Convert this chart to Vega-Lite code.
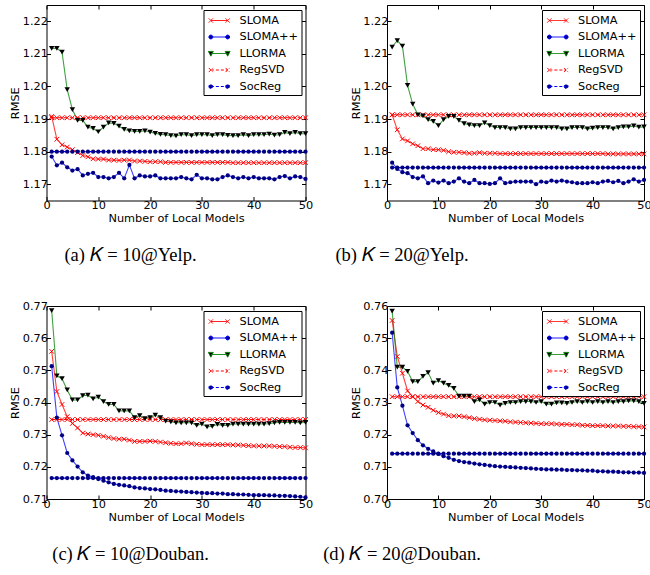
{
"$schema": "https://vega.github.io/schema/vega-lite/v6.json",
"padding": {"left": 8.5, "top": 4, "right": 0, "bottom": 0},
"bounds": "flush",
"columns": 2,
"align": "each",
"spacing": {"row": 105, "column": 81.5},
"datasets": {
"a": [
{"x":1,"SLOMA":1.1908,"SLOMA++":1.1785,"LLORMA":1.2117,"RegSVD":1.1904,"SocReg":1.18},
{"x":2,"SLOMA":1.1838,"SLOMA++":1.1758,"LLORMA":1.2117,"RegSVD":1.1904,"SocReg":1.18},
{"x":3,"SLOMA":1.1821,"SLOMA++":1.1766,"LLORMA":1.2105,"RegSVD":1.1904,"SocReg":1.18},
{"x":4,"SLOMA":1.1814,"SLOMA++":1.1752,"LLORMA":1.1990,"RegSVD":1.1904,"SocReg":1.18},
{"x":5,"SLOMA":1.1806,"SLOMA++":1.1742,"LLORMA":1.1929,"RegSVD":1.1904,"SocReg":1.18},
{"x":6,"SLOMA":1.1797,"SLOMA++":1.1746,"LLORMA":1.1896,"RegSVD":1.1904,"SocReg":1.18},
{"x":7,"SLOMA":1.1788,"SLOMA++":1.1727,"LLORMA":1.1896,"RegSVD":1.1904,"SocReg":1.18},
{"x":8,"SLOMA":1.1784,"SLOMA++":1.1732,"LLORMA":1.1875,"RegSVD":1.1904,"SocReg":1.18},
{"x":9,"SLOMA":1.1778,"SLOMA++":1.1735,"LLORMA":1.1871,"RegSVD":1.1904,"SocReg":1.18},
{"x":10,"SLOMA":1.1777,"SLOMA++":1.1722,"LLORMA":1.1861,"RegSVD":1.1904,"SocReg":1.18},
{"x":11,"SLOMA":1.1777,"SLOMA++":1.1722,"LLORMA":1.1875,"RegSVD":1.1904,"SocReg":1.18},
{"x":12,"SLOMA":1.1774,"SLOMA++":1.1718,"LLORMA":1.1888,"RegSVD":1.1904,"SocReg":1.18},
{"x":13,"SLOMA":1.1774,"SLOMA++":1.1722,"LLORMA":1.1887,"RegSVD":1.1904,"SocReg":1.18},
{"x":14,"SLOMA":1.1773,"SLOMA++":1.1735,"LLORMA":1.1878,"RegSVD":1.1904,"SocReg":1.18},
{"x":15,"SLOMA":1.1774,"SLOMA++":1.1718,"LLORMA":1.1868,"RegSVD":1.1904,"SocReg":1.18},
{"x":16,"SLOMA":1.1774,"SLOMA++":1.1759,"LLORMA":1.1864,"RegSVD":1.1904,"SocReg":1.18},
{"x":17,"SLOMA":1.1771,"SLOMA++":1.1718,"LLORMA":1.1862,"RegSVD":1.1904,"SocReg":1.18},
{"x":18,"SLOMA":1.1771,"SLOMA++":1.1727,"LLORMA":1.1862,"RegSVD":1.1904,"SocReg":1.18},
{"x":19,"SLOMA":1.1770,"SLOMA++":1.1724,"LLORMA":1.1864,"RegSVD":1.1904,"SocReg":1.18},
{"x":20,"SLOMA":1.1769,"SLOMA++":1.1724,"LLORMA":1.1860,"RegSVD":1.1904,"SocReg":1.18},
{"x":21,"SLOMA":1.1769,"SLOMA++":1.1727,"LLORMA":1.1856,"RegSVD":1.1904,"SocReg":1.18},
{"x":22,"SLOMA":1.1769,"SLOMA++":1.1718,"LLORMA":1.1853,"RegSVD":1.1904,"SocReg":1.18},
{"x":23,"SLOMA":1.1767,"SLOMA++":1.1718,"LLORMA":1.1852,"RegSVD":1.1904,"SocReg":1.18},
{"x":24,"SLOMA":1.1767,"SLOMA++":1.1718,"LLORMA":1.1849,"RegSVD":1.1904,"SocReg":1.18},
{"x":25,"SLOMA":1.1767,"SLOMA++":1.1718,"LLORMA":1.1848,"RegSVD":1.1904,"SocReg":1.18},
{"x":26,"SLOMA":1.1767,"SLOMA++":1.1722,"LLORMA":1.1852,"RegSVD":1.1904,"SocReg":1.18},
{"x":27,"SLOMA":1.1767,"SLOMA++":1.1718,"LLORMA":1.1852,"RegSVD":1.1904,"SocReg":1.18},
{"x":28,"SLOMA":1.1767,"SLOMA++":1.1715,"LLORMA":1.1849,"RegSVD":1.1904,"SocReg":1.18},
{"x":29,"SLOMA":1.1767,"SLOMA++":1.1729,"LLORMA":1.1852,"RegSVD":1.1904,"SocReg":1.18},
{"x":30,"SLOMA":1.1767,"SLOMA++":1.1718,"LLORMA":1.1852,"RegSVD":1.1904,"SocReg":1.18},
{"x":31,"SLOMA":1.1767,"SLOMA++":1.1718,"LLORMA":1.1852,"RegSVD":1.1904,"SocReg":1.18},
{"x":32,"SLOMA":1.1767,"SLOMA++":1.1715,"LLORMA":1.1849,"RegSVD":1.1904,"SocReg":1.18},
{"x":33,"SLOMA":1.1767,"SLOMA++":1.1715,"LLORMA":1.1852,"RegSVD":1.1904,"SocReg":1.18},
{"x":34,"SLOMA":1.1767,"SLOMA++":1.1722,"LLORMA":1.1852,"RegSVD":1.1904,"SocReg":1.18},
{"x":35,"SLOMA":1.1767,"SLOMA++":1.1727,"LLORMA":1.1850,"RegSVD":1.1904,"SocReg":1.18},
{"x":36,"SLOMA":1.1766,"SLOMA++":1.1722,"LLORMA":1.1849,"RegSVD":1.1904,"SocReg":1.18},
{"x":37,"SLOMA":1.1766,"SLOMA++":1.1718,"LLORMA":1.1849,"RegSVD":1.1904,"SocReg":1.18},
{"x":38,"SLOMA":1.1766,"SLOMA++":1.1722,"LLORMA":1.1852,"RegSVD":1.1904,"SocReg":1.18},
{"x":39,"SLOMA":1.1766,"SLOMA++":1.1718,"LLORMA":1.1849,"RegSVD":1.1904,"SocReg":1.18},
{"x":40,"SLOMA":1.1766,"SLOMA++":1.1722,"LLORMA":1.1852,"RegSVD":1.1904,"SocReg":1.18},
{"x":41,"SLOMA":1.1766,"SLOMA++":1.1718,"LLORMA":1.1852,"RegSVD":1.1904,"SocReg":1.18},
{"x":42,"SLOMA":1.1766,"SLOMA++":1.1718,"LLORMA":1.1852,"RegSVD":1.1904,"SocReg":1.18},
{"x":43,"SLOMA":1.1766,"SLOMA++":1.1718,"LLORMA":1.1854,"RegSVD":1.1904,"SocReg":1.18},
{"x":44,"SLOMA":1.1766,"SLOMA++":1.1715,"LLORMA":1.1851,"RegSVD":1.1904,"SocReg":1.18},
{"x":45,"SLOMA":1.1766,"SLOMA++":1.1722,"LLORMA":1.1852,"RegSVD":1.1904,"SocReg":1.18},
{"x":46,"SLOMA":1.1766,"SLOMA++":1.1725,"LLORMA":1.1859,"RegSVD":1.1904,"SocReg":1.18},
{"x":47,"SLOMA":1.1766,"SLOMA++":1.1718,"LLORMA":1.1855,"RegSVD":1.1904,"SocReg":1.18},
{"x":48,"SLOMA":1.1766,"SLOMA++":1.1724,"LLORMA":1.1859,"RegSVD":1.1904,"SocReg":1.18},
{"x":49,"SLOMA":1.1766,"SLOMA++":1.1722,"LLORMA":1.1855,"RegSVD":1.1904,"SocReg":1.18},
{"x":50,"SLOMA":1.1766,"SLOMA++":1.1716,"LLORMA":1.1855,"RegSVD":1.1904,"SocReg":1.18}
],
"b": [
{"x":1,"SLOMA":1.1913,"SLOMA++":1.1766,"LLORMA":1.2121,"RegSVD":1.1913,"SocReg":1.1751},
{"x":2,"SLOMA":1.1867,"SLOMA++":1.1747,"LLORMA":1.2141,"RegSVD":1.1913,"SocReg":1.1751},
{"x":3,"SLOMA":1.1839,"SLOMA++":1.1737,"LLORMA":1.2124,"RegSVD":1.1913,"SocReg":1.1751},
{"x":4,"SLOMA":1.1833,"SLOMA++":1.1734,"LLORMA":1.2003,"RegSVD":1.1913,"SocReg":1.1751},
{"x":5,"SLOMA":1.1824,"SLOMA++":1.1722,"LLORMA":1.1946,"RegSVD":1.1913,"SocReg":1.1751},
{"x":6,"SLOMA":1.1818,"SLOMA++":1.1718,"LLORMA":1.1913,"RegSVD":1.1913,"SocReg":1.1751},
{"x":7,"SLOMA":1.1809,"SLOMA++":1.1724,"LLORMA":1.1910,"RegSVD":1.1913,"SocReg":1.1751},
{"x":8,"SLOMA":1.1809,"SLOMA++":1.1703,"LLORMA":1.1898,"RegSVD":1.1913,"SocReg":1.1751},
{"x":9,"SLOMA":1.1806,"SLOMA++":1.1711,"LLORMA":1.1893,"RegSVD":1.1913,"SocReg":1.1751},
{"x":10,"SLOMA":1.1806,"SLOMA++":1.1705,"LLORMA":1.1880,"RegSVD":1.1913,"SocReg":1.1751},
{"x":11,"SLOMA":1.1804,"SLOMA++":1.1711,"LLORMA":1.1898,"RegSVD":1.1913,"SocReg":1.1751},
{"x":12,"SLOMA":1.1800,"SLOMA++":1.1703,"LLORMA":1.1908,"RegSVD":1.1913,"SocReg":1.1751},
{"x":13,"SLOMA":1.1798,"SLOMA++":1.1708,"LLORMA":1.1908,"RegSVD":1.1913,"SocReg":1.1751},
{"x":14,"SLOMA":1.1798,"SLOMA++":1.1718,"LLORMA":1.1896,"RegSVD":1.1913,"SocReg":1.1751},
{"x":15,"SLOMA":1.1797,"SLOMA++":1.1708,"LLORMA":1.1886,"RegSVD":1.1913,"SocReg":1.1751},
{"x":16,"SLOMA":1.1795,"SLOMA++":1.1703,"LLORMA":1.1882,"RegSVD":1.1913,"SocReg":1.1751},
{"x":17,"SLOMA":1.1795,"SLOMA++":1.1713,"LLORMA":1.1880,"RegSVD":1.1913,"SocReg":1.1751},
{"x":18,"SLOMA":1.1797,"SLOMA++":1.1703,"LLORMA":1.1880,"RegSVD":1.1913,"SocReg":1.1751},
{"x":19,"SLOMA":1.1795,"SLOMA++":1.1703,"LLORMA":1.1888,"RegSVD":1.1913,"SocReg":1.1751},
{"x":20,"SLOMA":1.1795,"SLOMA++":1.1701,"LLORMA":1.1880,"RegSVD":1.1913,"SocReg":1.1751},
{"x":21,"SLOMA":1.1795,"SLOMA++":1.1703,"LLORMA":1.1874,"RegSVD":1.1913,"SocReg":1.1751},
{"x":22,"SLOMA":1.1794,"SLOMA++":1.1718,"LLORMA":1.1874,"RegSVD":1.1913,"SocReg":1.1751},
{"x":23,"SLOMA":1.1794,"SLOMA++":1.1703,"LLORMA":1.1874,"RegSVD":1.1913,"SocReg":1.1751},
{"x":24,"SLOMA":1.1794,"SLOMA++":1.1706,"LLORMA":1.1870,"RegSVD":1.1913,"SocReg":1.1751},
{"x":25,"SLOMA":1.1794,"SLOMA++":1.1708,"LLORMA":1.1870,"RegSVD":1.1913,"SocReg":1.1751},
{"x":26,"SLOMA":1.1794,"SLOMA++":1.1708,"LLORMA":1.1874,"RegSVD":1.1913,"SocReg":1.1751},
{"x":27,"SLOMA":1.1794,"SLOMA++":1.1708,"LLORMA":1.1874,"RegSVD":1.1913,"SocReg":1.1751},
{"x":28,"SLOMA":1.1794,"SLOMA++":1.1708,"LLORMA":1.1874,"RegSVD":1.1913,"SocReg":1.1751},
{"x":29,"SLOMA":1.1794,"SLOMA++":1.1700,"LLORMA":1.1874,"RegSVD":1.1913,"SocReg":1.1751},
{"x":30,"SLOMA":1.1794,"SLOMA++":1.1708,"LLORMA":1.1874,"RegSVD":1.1913,"SocReg":1.1751},
{"x":31,"SLOMA":1.1794,"SLOMA++":1.1706,"LLORMA":1.1874,"RegSVD":1.1913,"SocReg":1.1751},
{"x":32,"SLOMA":1.1794,"SLOMA++":1.1711,"LLORMA":1.1874,"RegSVD":1.1913,"SocReg":1.1751},
{"x":33,"SLOMA":1.1794,"SLOMA++":1.1708,"LLORMA":1.1874,"RegSVD":1.1913,"SocReg":1.1751},
{"x":34,"SLOMA":1.1794,"SLOMA++":1.1711,"LLORMA":1.1870,"RegSVD":1.1913,"SocReg":1.1751},
{"x":35,"SLOMA":1.1794,"SLOMA++":1.1708,"LLORMA":1.1870,"RegSVD":1.1913,"SocReg":1.1751},
{"x":36,"SLOMA":1.1794,"SLOMA++":1.1706,"LLORMA":1.1874,"RegSVD":1.1913,"SocReg":1.1751},
{"x":37,"SLOMA":1.1794,"SLOMA++":1.1703,"LLORMA":1.1874,"RegSVD":1.1913,"SocReg":1.1751},
{"x":38,"SLOMA":1.1794,"SLOMA++":1.1703,"LLORMA":1.1874,"RegSVD":1.1913,"SocReg":1.1751},
{"x":39,"SLOMA":1.1794,"SLOMA++":1.1703,"LLORMA":1.1870,"RegSVD":1.1913,"SocReg":1.1751},
{"x":40,"SLOMA":1.1794,"SLOMA++":1.1706,"LLORMA":1.1872,"RegSVD":1.1913,"SocReg":1.1751},
{"x":41,"SLOMA":1.1794,"SLOMA++":1.1703,"LLORMA":1.1874,"RegSVD":1.1913,"SocReg":1.1751},
{"x":42,"SLOMA":1.1794,"SLOMA++":1.1708,"LLORMA":1.1874,"RegSVD":1.1913,"SocReg":1.1751},
{"x":43,"SLOMA":1.1793,"SLOMA++":1.1710,"LLORMA":1.1874,"RegSVD":1.1913,"SocReg":1.1751},
{"x":44,"SLOMA":1.1793,"SLOMA++":1.1706,"LLORMA":1.1870,"RegSVD":1.1913,"SocReg":1.1751},
{"x":45,"SLOMA":1.1793,"SLOMA++":1.1710,"LLORMA":1.1874,"RegSVD":1.1913,"SocReg":1.1751},
{"x":46,"SLOMA":1.1793,"SLOMA++":1.1703,"LLORMA":1.1876,"RegSVD":1.1913,"SocReg":1.1751},
{"x":47,"SLOMA":1.1793,"SLOMA++":1.1708,"LLORMA":1.1876,"RegSVD":1.1913,"SocReg":1.1751},
{"x":48,"SLOMA":1.1793,"SLOMA++":1.1715,"LLORMA":1.1879,"RegSVD":1.1913,"SocReg":1.1751},
{"x":49,"SLOMA":1.1793,"SLOMA++":1.1708,"LLORMA":1.1875,"RegSVD":1.1913,"SocReg":1.1751},
{"x":50,"SLOMA":1.1793,"SLOMA++":1.1713,"LLORMA":1.1876,"RegSVD":1.1913,"SocReg":1.1751}
],
"c": [
{"x":1,"SLOMA":0.7559,"SLOMA++":0.7513,"LLORMA":0.7686,"RegSVD":0.7347,"SocReg":0.7165},
{"x":2,"SLOMA":0.7434,"SLOMA++":0.7353,"LLORMA":0.7483,"RegSVD":0.7347,"SocReg":0.7165},
{"x":3,"SLOMA":0.7394,"SLOMA++":0.7298,"LLORMA":0.7474,"RegSVD":0.7347,"SocReg":0.7165},
{"x":4,"SLOMA":0.7356,"SLOMA++":0.7243,"LLORMA":0.7439,"RegSVD":0.7347,"SocReg":0.7165},
{"x":5,"SLOMA":0.7335,"SLOMA++":0.7220,"LLORMA":0.7408,"RegSVD":0.7347,"SocReg":0.7165},
{"x":6,"SLOMA":0.7321,"SLOMA++":0.7201,"LLORMA":0.7408,"RegSVD":0.7347,"SocReg":0.7165},
{"x":7,"SLOMA":0.7305,"SLOMA++":0.7183,"LLORMA":0.7421,"RegSVD":0.7347,"SocReg":0.7165},
{"x":8,"SLOMA":0.7302,"SLOMA++":0.7173,"LLORMA":0.7423,"RegSVD":0.7347,"SocReg":0.7165},
{"x":9,"SLOMA":0.7300,"SLOMA++":0.7168,"LLORMA":0.7411,"RegSVD":0.7347,"SocReg":0.7165},
{"x":10,"SLOMA":0.7298,"SLOMA++":0.7162,"LLORMA":0.7417,"RegSVD":0.7347,"SocReg":0.7165},
{"x":11,"SLOMA":0.7295,"SLOMA++":0.7157,"LLORMA":0.7403,"RegSVD":0.7347,"SocReg":0.7165},
{"x":12,"SLOMA":0.7291,"SLOMA++":0.7152,"LLORMA":0.7394,"RegSVD":0.7347,"SocReg":0.7165},
{"x":13,"SLOMA":0.7288,"SLOMA++":0.7147,"LLORMA":0.7394,"RegSVD":0.7347,"SocReg":0.7165},
{"x":14,"SLOMA":0.7286,"SLOMA++":0.7144,"LLORMA":0.7374,"RegSVD":0.7347,"SocReg":0.7165},
{"x":15,"SLOMA":0.7286,"SLOMA++":0.7142,"LLORMA":0.7374,"RegSVD":0.7347,"SocReg":0.7165},
{"x":16,"SLOMA":0.7283,"SLOMA++":0.7140,"LLORMA":0.7374,"RegSVD":0.7347,"SocReg":0.7165},
{"x":17,"SLOMA":0.7279,"SLOMA++":0.7136,"LLORMA":0.7353,"RegSVD":0.7347,"SocReg":0.7165},
{"x":18,"SLOMA":0.7279,"SLOMA++":0.7134,"LLORMA":0.7359,"RegSVD":0.7347,"SocReg":0.7165},
{"x":19,"SLOMA":0.7279,"SLOMA++":0.7133,"LLORMA":0.7350,"RegSVD":0.7347,"SocReg":0.7165},
{"x":20,"SLOMA":0.7280,"SLOMA++":0.7131,"LLORMA":0.7353,"RegSVD":0.7347,"SocReg":0.7165},
{"x":21,"SLOMA":0.7279,"SLOMA++":0.7130,"LLORMA":0.7361,"RegSVD":0.7347,"SocReg":0.7165},
{"x":22,"SLOMA":0.7277,"SLOMA++":0.7128,"LLORMA":0.7353,"RegSVD":0.7347,"SocReg":0.7165},
{"x":23,"SLOMA":0.7275,"SLOMA++":0.7126,"LLORMA":0.7342,"RegSVD":0.7347,"SocReg":0.7165},
{"x":24,"SLOMA":0.7273,"SLOMA++":0.7125,"LLORMA":0.7340,"RegSVD":0.7347,"SocReg":0.7165},
{"x":25,"SLOMA":0.7272,"SLOMA++":0.7124,"LLORMA":0.7337,"RegSVD":0.7347,"SocReg":0.7165},
{"x":26,"SLOMA":0.7272,"SLOMA++":0.7123,"LLORMA":0.7337,"RegSVD":0.7347,"SocReg":0.7165},
{"x":27,"SLOMA":0.7274,"SLOMA++":0.7122,"LLORMA":0.7337,"RegSVD":0.7347,"SocReg":0.7165},
{"x":28,"SLOMA":0.7272,"SLOMA++":0.7121,"LLORMA":0.7337,"RegSVD":0.7347,"SocReg":0.7165},
{"x":29,"SLOMA":0.7270,"SLOMA++":0.7120,"LLORMA":0.7329,"RegSVD":0.7347,"SocReg":0.7165},
{"x":30,"SLOMA":0.7269,"SLOMA++":0.7119,"LLORMA":0.7333,"RegSVD":0.7347,"SocReg":0.7165},
{"x":31,"SLOMA":0.7269,"SLOMA++":0.7118,"LLORMA":0.7324,"RegSVD":0.7347,"SocReg":0.7165},
{"x":32,"SLOMA":0.7269,"SLOMA++":0.7118,"LLORMA":0.7326,"RegSVD":0.7347,"SocReg":0.7165},
{"x":33,"SLOMA":0.7269,"SLOMA++":0.7117,"LLORMA":0.7332,"RegSVD":0.7347,"SocReg":0.7165},
{"x":34,"SLOMA":0.7269,"SLOMA++":0.7117,"LLORMA":0.7329,"RegSVD":0.7347,"SocReg":0.7165},
{"x":35,"SLOMA":0.7269,"SLOMA++":0.7115,"LLORMA":0.7329,"RegSVD":0.7347,"SocReg":0.7165},
{"x":36,"SLOMA":0.7268,"SLOMA++":0.7115,"LLORMA":0.7333,"RegSVD":0.7347,"SocReg":0.7165},
{"x":37,"SLOMA":0.7268,"SLOMA++":0.7114,"LLORMA":0.7333,"RegSVD":0.7347,"SocReg":0.7165},
{"x":38,"SLOMA":0.7267,"SLOMA++":0.7114,"LLORMA":0.7333,"RegSVD":0.7347,"SocReg":0.7165},
{"x":39,"SLOMA":0.7266,"SLOMA++":0.7113,"LLORMA":0.7333,"RegSVD":0.7347,"SocReg":0.7165},
{"x":40,"SLOMA":0.7265,"SLOMA++":0.7112,"LLORMA":0.7333,"RegSVD":0.7347,"SocReg":0.7165},
{"x":41,"SLOMA":0.7265,"SLOMA++":0.7112,"LLORMA":0.7333,"RegSVD":0.7347,"SocReg":0.7165},
{"x":42,"SLOMA":0.7265,"SLOMA++":0.7112,"LLORMA":0.7333,"RegSVD":0.7347,"SocReg":0.7165},
{"x":43,"SLOMA":0.7265,"SLOMA++":0.7111,"LLORMA":0.7334,"RegSVD":0.7347,"SocReg":0.7165},
{"x":44,"SLOMA":0.7264,"SLOMA++":0.7111,"LLORMA":0.7337,"RegSVD":0.7347,"SocReg":0.7165},
{"x":45,"SLOMA":0.7263,"SLOMA++":0.7110,"LLORMA":0.7338,"RegSVD":0.7347,"SocReg":0.7165},
{"x":46,"SLOMA":0.7263,"SLOMA++":0.7110,"LLORMA":0.7338,"RegSVD":0.7347,"SocReg":0.7165},
{"x":47,"SLOMA":0.7261,"SLOMA++":0.7109,"LLORMA":0.7338,"RegSVD":0.7347,"SocReg":0.7165},
{"x":48,"SLOMA":0.7260,"SLOMA++":0.7108,"LLORMA":0.7338,"RegSVD":0.7347,"SocReg":0.7165},
{"x":49,"SLOMA":0.7260,"SLOMA++":0.7107,"LLORMA":0.7337,"RegSVD":0.7347,"SocReg":0.7165},
{"x":50,"SLOMA":0.7259,"SLOMA++":0.7105,"LLORMA":0.7338,"RegSVD":0.7347,"SocReg":0.7165}
],
"d": [
{"x":1,"SLOMA":0.7555,"SLOMA++":0.7517,"LLORMA":0.7584,"RegSVD":0.7318,"SocReg":0.7141},
{"x":2,"SLOMA":0.7443,"SLOMA++":0.7347,"LLORMA":0.7410,"RegSVD":0.7318,"SocReg":0.7141},
{"x":3,"SLOMA":0.7391,"SLOMA++":0.7290,"LLORMA":0.7410,"RegSVD":0.7318,"SocReg":0.7141},
{"x":4,"SLOMA":0.7336,"SLOMA++":0.7229,"LLORMA":0.7397,"RegSVD":0.7318,"SocReg":0.7141},
{"x":5,"SLOMA":0.7318,"SLOMA++":0.7205,"LLORMA":0.7365,"RegSVD":0.7318,"SocReg":0.7141},
{"x":6,"SLOMA":0.7303,"SLOMA++":0.7183,"LLORMA":0.7365,"RegSVD":0.7318,"SocReg":0.7141},
{"x":7,"SLOMA":0.7292,"SLOMA++":0.7167,"LLORMA":0.7381,"RegSVD":0.7318,"SocReg":0.7141},
{"x":8,"SLOMA":0.7285,"SLOMA++":0.7156,"LLORMA":0.7393,"RegSVD":0.7318,"SocReg":0.7141},
{"x":9,"SLOMA":0.7276,"SLOMA++":0.7148,"LLORMA":0.7360,"RegSVD":0.7318,"SocReg":0.7141},
{"x":10,"SLOMA":0.7269,"SLOMA++":0.7140,"LLORMA":0.7368,"RegSVD":0.7318,"SocReg":0.7141},
{"x":11,"SLOMA":0.7264,"SLOMA++":0.7133,"LLORMA":0.7360,"RegSVD":0.7318,"SocReg":0.7141},
{"x":12,"SLOMA":0.7259,"SLOMA++":0.7128,"LLORMA":0.7353,"RegSVD":0.7318,"SocReg":0.7141},
{"x":13,"SLOMA":0.7258,"SLOMA++":0.7122,"LLORMA":0.7344,"RegSVD":0.7318,"SocReg":0.7141},
{"x":14,"SLOMA":0.7258,"SLOMA++":0.7118,"LLORMA":0.7320,"RegSVD":0.7318,"SocReg":0.7141},
{"x":15,"SLOMA":0.7256,"SLOMA++":0.7115,"LLORMA":0.7320,"RegSVD":0.7318,"SocReg":0.7141},
{"x":16,"SLOMA":0.7253,"SLOMA++":0.7113,"LLORMA":0.7320,"RegSVD":0.7318,"SocReg":0.7141},
{"x":17,"SLOMA":0.7250,"SLOMA++":0.7110,"LLORMA":0.7303,"RegSVD":0.7318,"SocReg":0.7141},
{"x":18,"SLOMA":0.7248,"SLOMA++":0.7108,"LLORMA":0.7308,"RegSVD":0.7318,"SocReg":0.7141},
{"x":19,"SLOMA":0.7246,"SLOMA++":0.7106,"LLORMA":0.7295,"RegSVD":0.7318,"SocReg":0.7141},
{"x":20,"SLOMA":0.7245,"SLOMA++":0.7104,"LLORMA":0.7300,"RegSVD":0.7318,"SocReg":0.7141},
{"x":21,"SLOMA":0.7244,"SLOMA++":0.7102,"LLORMA":0.7300,"RegSVD":0.7318,"SocReg":0.7141},
{"x":22,"SLOMA":0.7243,"SLOMA++":0.7101,"LLORMA":0.7292,"RegSVD":0.7318,"SocReg":0.7141},
{"x":23,"SLOMA":0.7242,"SLOMA++":0.7100,"LLORMA":0.7297,"RegSVD":0.7318,"SocReg":0.7141},
{"x":24,"SLOMA":0.7240,"SLOMA++":0.7099,"LLORMA":0.7300,"RegSVD":0.7318,"SocReg":0.7141},
{"x":25,"SLOMA":0.7239,"SLOMA++":0.7098,"LLORMA":0.7300,"RegSVD":0.7318,"SocReg":0.7141},
{"x":26,"SLOMA":0.7238,"SLOMA++":0.7097,"LLORMA":0.7303,"RegSVD":0.7318,"SocReg":0.7141},
{"x":27,"SLOMA":0.7237,"SLOMA++":0.7096,"LLORMA":0.7303,"RegSVD":0.7318,"SocReg":0.7141},
{"x":28,"SLOMA":0.7236,"SLOMA++":0.7095,"LLORMA":0.7303,"RegSVD":0.7318,"SocReg":0.7141},
{"x":29,"SLOMA":0.7235,"SLOMA++":0.7094,"LLORMA":0.7300,"RegSVD":0.7318,"SocReg":0.7141},
{"x":30,"SLOMA":0.7234,"SLOMA++":0.7093,"LLORMA":0.7303,"RegSVD":0.7318,"SocReg":0.7141},
{"x":31,"SLOMA":0.7234,"SLOMA++":0.7092,"LLORMA":0.7295,"RegSVD":0.7318,"SocReg":0.7141},
{"x":32,"SLOMA":0.7234,"SLOMA++":0.7092,"LLORMA":0.7295,"RegSVD":0.7318,"SocReg":0.7141},
{"x":33,"SLOMA":0.7233,"SLOMA++":0.7091,"LLORMA":0.7299,"RegSVD":0.7318,"SocReg":0.7141},
{"x":34,"SLOMA":0.7232,"SLOMA++":0.7091,"LLORMA":0.7299,"RegSVD":0.7318,"SocReg":0.7141},
{"x":35,"SLOMA":0.7232,"SLOMA++":0.7090,"LLORMA":0.7297,"RegSVD":0.7318,"SocReg":0.7141},
{"x":36,"SLOMA":0.7231,"SLOMA++":0.7090,"LLORMA":0.7300,"RegSVD":0.7318,"SocReg":0.7141},
{"x":37,"SLOMA":0.7231,"SLOMA++":0.7089,"LLORMA":0.7303,"RegSVD":0.7318,"SocReg":0.7141},
{"x":38,"SLOMA":0.7229,"SLOMA++":0.7089,"LLORMA":0.7300,"RegSVD":0.7318,"SocReg":0.7141},
{"x":39,"SLOMA":0.7229,"SLOMA++":0.7088,"LLORMA":0.7303,"RegSVD":0.7318,"SocReg":0.7141},
{"x":40,"SLOMA":0.7228,"SLOMA++":0.7088,"LLORMA":0.7300,"RegSVD":0.7318,"SocReg":0.7141},
{"x":41,"SLOMA":0.7228,"SLOMA++":0.7086,"LLORMA":0.7303,"RegSVD":0.7318,"SocReg":0.7141},
{"x":42,"SLOMA":0.7228,"SLOMA++":0.7086,"LLORMA":0.7300,"RegSVD":0.7318,"SocReg":0.7141},
{"x":43,"SLOMA":0.7227,"SLOMA++":0.7085,"LLORMA":0.7303,"RegSVD":0.7318,"SocReg":0.7141},
{"x":44,"SLOMA":0.7227,"SLOMA++":0.7085,"LLORMA":0.7300,"RegSVD":0.7318,"SocReg":0.7141},
{"x":45,"SLOMA":0.7227,"SLOMA++":0.7084,"LLORMA":0.7303,"RegSVD":0.7318,"SocReg":0.7141},
{"x":46,"SLOMA":0.7226,"SLOMA++":0.7083,"LLORMA":0.7303,"RegSVD":0.7318,"SocReg":0.7141},
{"x":47,"SLOMA":0.7226,"SLOMA++":0.7083,"LLORMA":0.7305,"RegSVD":0.7318,"SocReg":0.7141},
{"x":48,"SLOMA":0.7225,"SLOMA++":0.7082,"LLORMA":0.7305,"RegSVD":0.7318,"SocReg":0.7141},
{"x":49,"SLOMA":0.7225,"SLOMA++":0.7082,"LLORMA":0.7303,"RegSVD":0.7318,"SocReg":0.7141},
{"x":50,"SLOMA":0.7224,"SLOMA++":0.7081,"LLORMA":0.7297,"RegSVD":0.7318,"SocReg":0.7141}
]
},
"concat": [
{
"width": 259, "height": 195.5,
"data": {"name": "a"},
"transform": [{"fold": ["SLOMA","SLOMA++","LLORMA","RegSVD","SocReg"], "as": ["series","rmse"]}],
"title": {"text": "(a)  𝐾 = 10@Yelp.", "dx": -45.5},
"layer": [
{"layer": [
{"transform": [{"filter": "datum.series==='SLOMA'||datum.series==='SLOMA++'||datum.series==='LLORMA'"}],
"mark": {"type": "line", "strokeWidth": 1.1, "strokeOpacity": 0.75},
"encoding": {
"x": {"field": "x", "type": "quantitative", "scale": {"domain": [0, 50], "nice": false}, "axis": {"values": [0,10,20,30,40,50], "tickCount": 12, "title": "Number of Local Models", "labelOverlap": false}},
"y": {"field": "rmse", "type": "quantitative", "scale": {"domain": [1.165, 1.225], "nice": false, "zero": false}, "axis": {"values": [1.17,1.18,1.19,1.2,1.21,1.22], "tickCount": 12, "format": ".2f", "title": "RMSE", "labelOverlap": false}},
"color": {"field": "series", "type": "nominal", "scale": {"range": ["#008000","#ff0000","#ff0000","#0000ff","#0000ff"]}, "legend": null}
}},
{"transform": [{"filter": "datum.series==='RegSVD'||datum.series==='SocReg'"}],
"mark": {"type": "line", "strokeWidth": 1.1, "strokeDash": [4, 2]},
"encoding": {"x": {"field": "x", "type": "quantitative"}, "y": {"field": "rmse", "type": "quantitative"}, "color": {"field": "series", "type": "nominal", "legend": null}}},
{"transform": [{"filter": "datum.series==='SLOMA'||datum.series==='RegSVD'"}],
"mark": {"type": "point", "filled": false, "shape": "M-0.85,-0.85L0.85,0.85M-0.85,0.85L0.85,-0.85", "size": 30, "color": "#ff0000", "strokeWidth": 1, "opacity": 1},
"encoding": {"x": {"field": "x", "type": "quantitative"}, "y": {"field": "rmse", "type": "quantitative"}}},
{"transform": [{"filter": "datum.series==='SLOMA++'||datum.series==='SocReg'"}],
"mark": {"type": "point", "filled": true, "shape": "circle", "size": 18, "color": "#000080", "opacity": 1},
"encoding": {"x": {"field": "x", "type": "quantitative"}, "y": {"field": "rmse", "type": "quantitative"}}},
{"transform": [{"filter": "datum.series==='LLORMA'"}],
"mark": {"type": "point", "filled": true, "shape": "triangle-down", "size": 30, "color": "#000000", "opacity": 1},
"encoding": {"x": {"field": "x", "type": "quantitative"}, "y": {"field": "rmse", "type": "quantitative"}}},
{"transform": [{"filter": "datum.x > 1000"}],
"mark": {"type": "point", "filled": true, "opacity": 1},
"encoding": {"x": {"field": "x", "type": "quantitative"}, "y": {"field": "rmse", "type": "quantitative"},
"shape": {"field": "series", "type": "nominal", "scale": {"domain": ["SLOMA","SLOMA++","LLORMA","RegSVD","SocReg"], "range": ["M-0.45,0H1.95M-0.75,-0.3L-0.15,0.3M-0.75,0.3L-0.15,-0.3M1.65,-0.3L2.25,0.3M1.65,0.3L2.25,-0.3","M-0.45,0H1.95M-0.73,0A0.28,0.28 0 1,0 -0.17,0A0.28,0.28 0 1,0 -0.73,0ZM1.67,0A0.28,0.28 0 1,0 2.23,0A0.28,0.28 0 1,0 1.67,0Z","M-0.45,0H1.95M-0.8,-0.3L-0.1,-0.3L-0.45,0.38ZM1.6,-0.3L2.3,-0.3L1.95,0.38Z","M-0.45,0H1.95M-0.75,-0.3L-0.15,0.3M-0.75,0.3L-0.15,-0.3M1.65,-0.3L2.25,0.3M1.65,0.3L2.25,-0.3","M-0.45,0H1.95M-0.73,0A0.28,0.28 0 1,0 -0.17,0A0.28,0.28 0 1,0 -0.73,0ZM1.67,0A0.28,0.28 0 1,0 2.23,0A0.28,0.28 0 1,0 1.67,0Z"]}, "legend": {"title": null}},
"fill": {"field": "series", "type": "nominal", "scale": {"domain": ["SLOMA","SLOMA++","LLORMA","RegSVD","SocReg"], "range": ["#ff0000","#000080","#000000","#ff0000","#000080"]}, "legend": {"title": null}},
"stroke": {"field": "series", "type": "nominal", "scale": {"domain": ["SLOMA","SLOMA++","LLORMA","RegSVD","SocReg"], "range": ["#ff0000","#0000ff","#008000","#ff0000","#0000ff"]}, "legend": {"title": null}},
"strokeDash": {"field": "series", "type": "nominal", "scale": {"domain": ["SLOMA","SLOMA++","LLORMA","RegSVD","SocReg"], "range": [[1,0],[1,0],[1,0],[3,2],[3,2]]}, "legend": {"title": null}}
}}
]},
{"mark": {"type": "point", "opacity": 0},
"encoding": {
"x": {"field": "x", "type": "quantitative", "scale": {"domain": [0, 50], "nice": false}, "axis": {"orient": "top", "values": [0,10,20,30,40,50], "tickCount": 12, "labels": false, "title": null}},
"y": {"field": "rmse", "type": "quantitative", "scale": {"domain": [1.165, 1.225], "nice": false, "zero": false}, "axis": {"orient": "right", "values": [1.17,1.18,1.19,1.2,1.21,1.22], "tickCount": 12, "labels": false, "title": null}}
}}
],
"resolve": {"scale": {"x": "independent", "y": "independent"}}
},
{
"width": 257, "height": 195.5,
"data": {"name": "b"},
"transform": [{"fold": ["SLOMA","SLOMA++","LLORMA","RegSVD","SocReg"], "as": ["series","rmse"]}],
"title": {"text": "(b)  𝐾 = 20@Yelp.", "dx": -113.5},
"layer": [
{"layer": [
{"transform": [{"filter": "datum.series==='SLOMA'||datum.series==='SLOMA++'||datum.series==='LLORMA'"}],
"mark": {"type": "line", "strokeWidth": 1.1, "strokeOpacity": 0.75},
"encoding": {
"x": {"field": "x", "type": "quantitative", "scale": {"domain": [0, 50], "nice": false}, "axis": {"values": [0,10,20,30,40,50], "tickCount": 12, "title": "Number of Local Models", "labelOverlap": false}},
"y": {"field": "rmse", "type": "quantitative", "scale": {"domain": [1.165, 1.225], "nice": false, "zero": false}, "axis": {"values": [1.17,1.18,1.19,1.2,1.21,1.22], "tickCount": 12, "format": ".2f", "title": "RMSE", "labelOverlap": false}},
"color": {"field": "series", "type": "nominal", "scale": {"range": ["#008000","#ff0000","#ff0000","#0000ff","#0000ff"]}, "legend": null}
}},
{"transform": [{"filter": "datum.series==='RegSVD'||datum.series==='SocReg'"}],
"mark": {"type": "line", "strokeWidth": 1.1, "strokeDash": [4, 2]},
"encoding": {"x": {"field": "x", "type": "quantitative"}, "y": {"field": "rmse", "type": "quantitative"}, "color": {"field": "series", "type": "nominal", "legend": null}}},
{"transform": [{"filter": "datum.series==='SLOMA'||datum.series==='RegSVD'"}],
"mark": {"type": "point", "filled": false, "shape": "M-0.85,-0.85L0.85,0.85M-0.85,0.85L0.85,-0.85", "size": 30, "color": "#ff0000", "strokeWidth": 1, "opacity": 1},
"encoding": {"x": {"field": "x", "type": "quantitative"}, "y": {"field": "rmse", "type": "quantitative"}}},
{"transform": [{"filter": "datum.series==='SLOMA++'||datum.series==='SocReg'"}],
"mark": {"type": "point", "filled": true, "shape": "circle", "size": 18, "color": "#000080", "opacity": 1},
"encoding": {"x": {"field": "x", "type": "quantitative"}, "y": {"field": "rmse", "type": "quantitative"}}},
{"transform": [{"filter": "datum.series==='LLORMA'"}],
"mark": {"type": "point", "filled": true, "shape": "triangle-down", "size": 30, "color": "#000000", "opacity": 1},
"encoding": {"x": {"field": "x", "type": "quantitative"}, "y": {"field": "rmse", "type": "quantitative"}}},
{"transform": [{"filter": "datum.x > 1000"}],
"mark": {"type": "point", "filled": true, "opacity": 1},
"encoding": {"x": {"field": "x", "type": "quantitative"}, "y": {"field": "rmse", "type": "quantitative"},
"shape": {"field": "series", "type": "nominal", "scale": {"domain": ["SLOMA","SLOMA++","LLORMA","RegSVD","SocReg"], "range": ["M-0.45,0H1.95M-0.75,-0.3L-0.15,0.3M-0.75,0.3L-0.15,-0.3M1.65,-0.3L2.25,0.3M1.65,0.3L2.25,-0.3","M-0.45,0H1.95M-0.73,0A0.28,0.28 0 1,0 -0.17,0A0.28,0.28 0 1,0 -0.73,0ZM1.67,0A0.28,0.28 0 1,0 2.23,0A0.28,0.28 0 1,0 1.67,0Z","M-0.45,0H1.95M-0.8,-0.3L-0.1,-0.3L-0.45,0.38ZM1.6,-0.3L2.3,-0.3L1.95,0.38Z","M-0.45,0H1.95M-0.75,-0.3L-0.15,0.3M-0.75,0.3L-0.15,-0.3M1.65,-0.3L2.25,0.3M1.65,0.3L2.25,-0.3","M-0.45,0H1.95M-0.73,0A0.28,0.28 0 1,0 -0.17,0A0.28,0.28 0 1,0 -0.73,0ZM1.67,0A0.28,0.28 0 1,0 2.23,0A0.28,0.28 0 1,0 1.67,0Z"]}, "legend": {"title": null}},
"fill": {"field": "series", "type": "nominal", "scale": {"domain": ["SLOMA","SLOMA++","LLORMA","RegSVD","SocReg"], "range": ["#ff0000","#000080","#000000","#ff0000","#000080"]}, "legend": {"title": null}},
"stroke": {"field": "series", "type": "nominal", "scale": {"domain": ["SLOMA","SLOMA++","LLORMA","RegSVD","SocReg"], "range": ["#ff0000","#0000ff","#008000","#ff0000","#0000ff"]}, "legend": {"title": null}},
"strokeDash": {"field": "series", "type": "nominal", "scale": {"domain": ["SLOMA","SLOMA++","LLORMA","RegSVD","SocReg"], "range": [[1,0],[1,0],[1,0],[3,2],[3,2]]}, "legend": {"title": null}}
}}
]},
{"mark": {"type": "point", "opacity": 0},
"encoding": {
"x": {"field": "x", "type": "quantitative", "scale": {"domain": [0, 50], "nice": false}, "axis": {"orient": "top", "values": [0,10,20,30,40,50], "tickCount": 12, "labels": false, "title": null}},
"y": {"field": "rmse", "type": "quantitative", "scale": {"domain": [1.165, 1.225], "nice": false, "zero": false}, "axis": {"orient": "right", "values": [1.17,1.18,1.19,1.2,1.21,1.22], "tickCount": 12, "labels": false, "title": null}}
}}
],
"resolve": {"scale": {"x": "independent", "y": "independent"}}
},
{
"width": 259, "height": 193,
"data": {"name": "c"},
"transform": [{"fold": ["SLOMA","SLOMA++","LLORMA","RegSVD","SocReg"], "as": ["series","rmse"]}],
"title": {"text": "(c)  𝐾 = 10@Douban.", "dx": -45.5},
"layer": [
{"layer": [
{"transform": [{"filter": "datum.series==='SLOMA'||datum.series==='SLOMA++'||datum.series==='LLORMA'"}],
"mark": {"type": "line", "strokeWidth": 1.1, "strokeOpacity": 0.75},
"encoding": {
"x": {"field": "x", "type": "quantitative", "scale": {"domain": [0, 50], "nice": false}, "axis": {"values": [0,10,20,30,40,50], "tickCount": 12, "title": "Number of Local Models", "labelOverlap": false}},
"y": {"field": "rmse", "type": "quantitative", "scale": {"domain": [0.71, 0.77], "nice": false, "zero": false}, "axis": {"values": [0.71,0.72,0.73,0.74,0.75,0.76,0.77], "tickCount": 12, "format": ".2f", "title": "RMSE", "labelOverlap": false}},
"color": {"field": "series", "type": "nominal", "scale": {"range": ["#008000","#ff0000","#ff0000","#0000ff","#0000ff"]}, "legend": null}
}},
{"transform": [{"filter": "datum.series==='RegSVD'||datum.series==='SocReg'"}],
"mark": {"type": "line", "strokeWidth": 1.1, "strokeDash": [4, 2]},
"encoding": {"x": {"field": "x", "type": "quantitative"}, "y": {"field": "rmse", "type": "quantitative"}, "color": {"field": "series", "type": "nominal", "legend": null}}},
{"transform": [{"filter": "datum.series==='SLOMA'||datum.series==='RegSVD'"}],
"mark": {"type": "point", "filled": false, "shape": "M-0.85,-0.85L0.85,0.85M-0.85,0.85L0.85,-0.85", "size": 30, "color": "#ff0000", "strokeWidth": 1, "opacity": 1},
"encoding": {"x": {"field": "x", "type": "quantitative"}, "y": {"field": "rmse", "type": "quantitative"}}},
{"transform": [{"filter": "datum.series==='SLOMA++'||datum.series==='SocReg'"}],
"mark": {"type": "point", "filled": true, "shape": "circle", "size": 18, "color": "#000080", "opacity": 1},
"encoding": {"x": {"field": "x", "type": "quantitative"}, "y": {"field": "rmse", "type": "quantitative"}}},
{"transform": [{"filter": "datum.series==='LLORMA'"}],
"mark": {"type": "point", "filled": true, "shape": "triangle-down", "size": 30, "color": "#000000", "opacity": 1},
"encoding": {"x": {"field": "x", "type": "quantitative"}, "y": {"field": "rmse", "type": "quantitative"}}},
{"transform": [{"filter": "datum.x > 1000"}],
"mark": {"type": "point", "filled": true, "opacity": 1},
"encoding": {"x": {"field": "x", "type": "quantitative"}, "y": {"field": "rmse", "type": "quantitative"},
"shape": {"field": "series", "type": "nominal", "scale": {"domain": ["SLOMA","SLOMA++","LLORMA","RegSVD","SocReg"], "range": ["M-0.45,0H1.95M-0.75,-0.3L-0.15,0.3M-0.75,0.3L-0.15,-0.3M1.65,-0.3L2.25,0.3M1.65,0.3L2.25,-0.3","M-0.45,0H1.95M-0.73,0A0.28,0.28 0 1,0 -0.17,0A0.28,0.28 0 1,0 -0.73,0ZM1.67,0A0.28,0.28 0 1,0 2.23,0A0.28,0.28 0 1,0 1.67,0Z","M-0.45,0H1.95M-0.8,-0.3L-0.1,-0.3L-0.45,0.38ZM1.6,-0.3L2.3,-0.3L1.95,0.38Z","M-0.45,0H1.95M-0.75,-0.3L-0.15,0.3M-0.75,0.3L-0.15,-0.3M1.65,-0.3L2.25,0.3M1.65,0.3L2.25,-0.3","M-0.45,0H1.95M-0.73,0A0.28,0.28 0 1,0 -0.17,0A0.28,0.28 0 1,0 -0.73,0ZM1.67,0A0.28,0.28 0 1,0 2.23,0A0.28,0.28 0 1,0 1.67,0Z"]}, "legend": {"title": null}},
"fill": {"field": "series", "type": "nominal", "scale": {"domain": ["SLOMA","SLOMA++","LLORMA","RegSVD","SocReg"], "range": ["#ff0000","#000080","#000000","#ff0000","#000080"]}, "legend": {"title": null}},
"stroke": {"field": "series", "type": "nominal", "scale": {"domain": ["SLOMA","SLOMA++","LLORMA","RegSVD","SocReg"], "range": ["#ff0000","#0000ff","#008000","#ff0000","#0000ff"]}, "legend": {"title": null}},
"strokeDash": {"field": "series", "type": "nominal", "scale": {"domain": ["SLOMA","SLOMA++","LLORMA","RegSVD","SocReg"], "range": [[1,0],[1,0],[1,0],[3,2],[3,2]]}, "legend": {"title": null}}
}}
]},
{"mark": {"type": "point", "opacity": 0},
"encoding": {
"x": {"field": "x", "type": "quantitative", "scale": {"domain": [0, 50], "nice": false}, "axis": {"orient": "top", "values": [0,10,20,30,40,50], "tickCount": 12, "labels": false, "title": null}},
"y": {"field": "rmse", "type": "quantitative", "scale": {"domain": [0.71, 0.77], "nice": false, "zero": false}, "axis": {"orient": "right", "values": [0.71,0.72,0.73,0.74,0.75,0.76,0.77], "tickCount": 12, "labels": false, "title": null}}
}}
],
"resolve": {"scale": {"x": "independent", "y": "independent"}}
},
{
"width": 257, "height": 193,
"data": {"name": "d"},
"transform": [{"fold": ["SLOMA","SLOMA++","LLORMA","RegSVD","SocReg"], "as": ["series","rmse"]}],
"title": {"text": "(d)  𝐾 = 20@Douban.", "dx": -113.5},
"layer": [
{"layer": [
{"transform": [{"filter": "datum.series==='SLOMA'||datum.series==='SLOMA++'||datum.series==='LLORMA'"}],
"mark": {"type": "line", "strokeWidth": 1.1, "strokeOpacity": 0.75},
"encoding": {
"x": {"field": "x", "type": "quantitative", "scale": {"domain": [0, 50], "nice": false}, "axis": {"values": [0,10,20,30,40,50], "tickCount": 12, "title": "Number of Local Models", "labelOverlap": false}},
"y": {"field": "rmse", "type": "quantitative", "scale": {"domain": [0.70, 0.76], "nice": false, "zero": false}, "axis": {"values": [0.70,0.71,0.72,0.73,0.74,0.75,0.76], "tickCount": 12, "format": ".2f", "title": "RMSE", "labelOverlap": false}},
"color": {"field": "series", "type": "nominal", "scale": {"range": ["#008000","#ff0000","#ff0000","#0000ff","#0000ff"]}, "legend": null}
}},
{"transform": [{"filter": "datum.series==='RegSVD'||datum.series==='SocReg'"}],
"mark": {"type": "line", "strokeWidth": 1.1, "strokeDash": [4, 2]},
"encoding": {"x": {"field": "x", "type": "quantitative"}, "y": {"field": "rmse", "type": "quantitative"}, "color": {"field": "series", "type": "nominal", "legend": null}}},
{"transform": [{"filter": "datum.series==='SLOMA'||datum.series==='RegSVD'"}],
"mark": {"type": "point", "filled": false, "shape": "M-0.85,-0.85L0.85,0.85M-0.85,0.85L0.85,-0.85", "size": 30, "color": "#ff0000", "strokeWidth": 1, "opacity": 1},
"encoding": {"x": {"field": "x", "type": "quantitative"}, "y": {"field": "rmse", "type": "quantitative"}}},
{"transform": [{"filter": "datum.series==='SLOMA++'||datum.series==='SocReg'"}],
"mark": {"type": "point", "filled": true, "shape": "circle", "size": 18, "color": "#000080", "opacity": 1},
"encoding": {"x": {"field": "x", "type": "quantitative"}, "y": {"field": "rmse", "type": "quantitative"}}},
{"transform": [{"filter": "datum.series==='LLORMA'"}],
"mark": {"type": "point", "filled": true, "shape": "triangle-down", "size": 30, "color": "#000000", "opacity": 1},
"encoding": {"x": {"field": "x", "type": "quantitative"}, "y": {"field": "rmse", "type": "quantitative"}}},
{"transform": [{"filter": "datum.x > 1000"}],
"mark": {"type": "point", "filled": true, "opacity": 1},
"encoding": {"x": {"field": "x", "type": "quantitative"}, "y": {"field": "rmse", "type": "quantitative"},
"shape": {"field": "series", "type": "nominal", "scale": {"domain": ["SLOMA","SLOMA++","LLORMA","RegSVD","SocReg"], "range": ["M-0.45,0H1.95M-0.75,-0.3L-0.15,0.3M-0.75,0.3L-0.15,-0.3M1.65,-0.3L2.25,0.3M1.65,0.3L2.25,-0.3","M-0.45,0H1.95M-0.73,0A0.28,0.28 0 1,0 -0.17,0A0.28,0.28 0 1,0 -0.73,0ZM1.67,0A0.28,0.28 0 1,0 2.23,0A0.28,0.28 0 1,0 1.67,0Z","M-0.45,0H1.95M-0.8,-0.3L-0.1,-0.3L-0.45,0.38ZM1.6,-0.3L2.3,-0.3L1.95,0.38Z","M-0.45,0H1.95M-0.75,-0.3L-0.15,0.3M-0.75,0.3L-0.15,-0.3M1.65,-0.3L2.25,0.3M1.65,0.3L2.25,-0.3","M-0.45,0H1.95M-0.73,0A0.28,0.28 0 1,0 -0.17,0A0.28,0.28 0 1,0 -0.73,0ZM1.67,0A0.28,0.28 0 1,0 2.23,0A0.28,0.28 0 1,0 1.67,0Z"]}, "legend": {"title": null}},
"fill": {"field": "series", "type": "nominal", "scale": {"domain": ["SLOMA","SLOMA++","LLORMA","RegSVD","SocReg"], "range": ["#ff0000","#000080","#000000","#ff0000","#000080"]}, "legend": {"title": null}},
"stroke": {"field": "series", "type": "nominal", "scale": {"domain": ["SLOMA","SLOMA++","LLORMA","RegSVD","SocReg"], "range": ["#ff0000","#0000ff","#008000","#ff0000","#0000ff"]}, "legend": {"title": null}},
"strokeDash": {"field": "series", "type": "nominal", "scale": {"domain": ["SLOMA","SLOMA++","LLORMA","RegSVD","SocReg"], "range": [[1,0],[1,0],[1,0],[3,2],[3,2]]}, "legend": {"title": null}}
}}
]},
{"mark": {"type": "point", "opacity": 0},
"encoding": {
"x": {"field": "x", "type": "quantitative", "scale": {"domain": [0, 50], "nice": false}, "axis": {"orient": "top", "values": [0,10,20,30,40,50], "tickCount": 12, "labels": false, "title": null}},
"y": {"field": "rmse", "type": "quantitative", "scale": {"domain": [0.70, 0.76], "nice": false, "zero": false}, "axis": {"orient": "right", "values": [0.70,0.71,0.72,0.73,0.74,0.75,0.76], "tickCount": 12, "labels": false, "title": null}}
}}
],
"resolve": {"scale": {"x": "independent", "y": "independent"}}
}
],
"resolve": {"scale": {"x": "independent", "y": "independent", "color": "independent", "strokeDash": "independent", "shape": "independent", "fill": "independent", "stroke": "independent"}, "legend": {"shape": "independent", "fill": "independent", "stroke": "independent", "strokeDash": "independent"}},
"config": {
"background": "#ffffff",
"view": {"stroke": "#000000", "strokeWidth": 1},
"axis": {"grid": false, "domain": false, "tickSize": -4, "tickColor": "#000000", "tickWidth": 1, "labelFont": "DejaVu Sans", "labelFontSize": 11.3, "labelColor": "#000000", "titleFont": "DejaVu Sans", "titleFontSize": 11.3, "titleFontWeight": "normal", "titleColor": "#000000", "labelFlush": false, "labelOverlap": false},
"axisLeft": {"labelPadding": 3, "titlePadding": 1.5},
"axisBottom": {"labelPadding": 3.4, "titlePadding": 1.3},
"legend": {"orient": "top-right", "offset": 4.5, "strokeColor": "#000000", "fillColor": "#ffffff", "padding": 3, "cornerRadius": 0, "labelFont": "DejaVu Sans", "labelFontSize": 11.3, "labelColor": "#000000", "symbolSize": 196, "labelOffset": 18, "rowPadding": 3.5, "symbolStrokeWidth": 1},
"title": {"orient": "bottom", "font": "Liberation Serif", "fontSize": 18.5, "fontWeight": "normal", "color": "#000000", "offset": 22.5, "frame": "group", "anchor": "middle"}
}
}
